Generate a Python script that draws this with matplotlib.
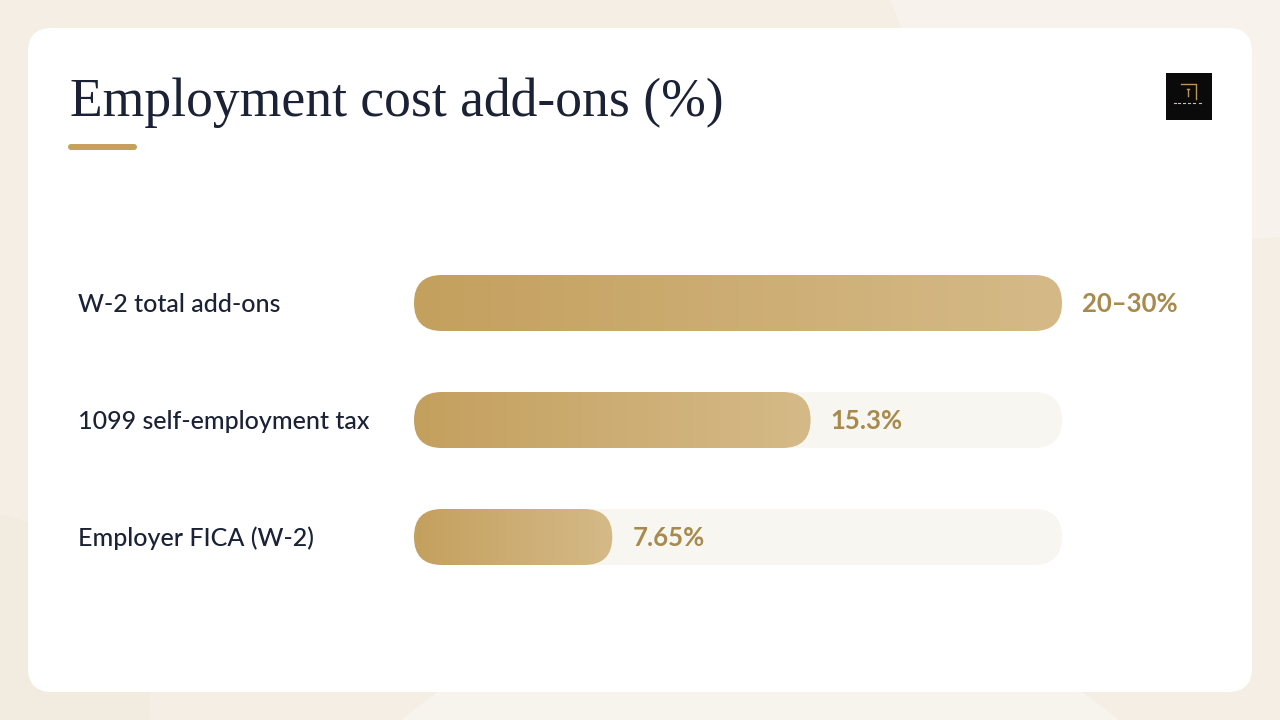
import matplotlib.pyplot as plt
import numpy as np
from matplotlib.patches import FancyBboxPatch, Circle, Rectangle
from matplotlib.transforms import blended_transform_factory

# data
categories = ['W-2 total add-ons', '1099 self-employment tax', 'Employer FICA (W-2)']
values = [25.0, 15.3, 7.65]          # W-2 range 20–30% drawn at its midpoint
value_labels = ['20–30%', '15.3%', '7.65%']
scale_max = 25.0

W, H = 1280, 720
NAVY = '#1b2235'
GOLD = '#c4a15f'
GOLD_TXT = '#a78a4c'
TRACK = '#f8f6f1'

fig = plt.figure(figsize=(12.8, 7.2), dpi=100)
fig.patch.set_facecolor('#f4eee5')

# background / card layer in pixel units
bg = fig.add_axes([0, 0, 1, 1])
bg.set_xlim(0, W)
bg.set_ylim(H, 0)
bg.axis('off')
bg.add_patch(Circle((1230, -120), 360, color='#f7f3ec', ec='none', zorder=0))
bg.add_patch(Circle((-40, 700), 190, color='#f2ebe0', ec='none', zorder=0))
bg.add_patch(Circle((760, 1150), 560, color='#f7f3ed', ec='none', zorder=0))
bg.add_patch(FancyBboxPatch((28, 28), 1224, 664,
                            boxstyle='round,pad=0,rounding_size=24',
                            fc='white', ec='none', zorder=1))

bg.text(70, 116, 'Employment cost add-ons (%)', fontsize=38.6,
        family='Liberation Serif', color=NAVY, va='baseline', zorder=2)
bg.add_patch(FancyBboxPatch((68, 144), 69, 6,
                            boxstyle='round,pad=0,rounding_size=3',
                            fc=GOLD, ec='none', zorder=2))

# small logo
bg.add_patch(Rectangle((1166, 73), 46, 47, fc='#0a0a0a', ec='none', zorder=2))
bg.plot([1181, 1196, 1196], [84, 84, 99], color='#b8955a', lw=1, zorder=3)
bg.plot([1187, 1189], [89, 89], color='#b8955a', lw=1, zorder=3)
bg.plot([1188, 1188], [89, 96], color='#b8955a', lw=1, zorder=3)
for xx in [1174, 1178, 1183, 1188, 1193, 1199]:
    bg.plot([xx, xx + 2], [103, 103], color='#c8c0b0', lw=0.8, zorder=3)

# bar axes
first_c, row_px = 303, 117
track_l, track_w = 414, 648
top_px = first_c - 0.6 * row_px
bot_px = first_c + 2.6 * row_px
ax = fig.add_axes([track_l / W, (H - bot_px) / H, track_w / W, (bot_px - top_px) / H])
ax.set_xlim(0, scale_max)
ax.set_ylim(2.6, -0.6)
ax.axis('off')

px_x = track_w / scale_max
px_y = row_px
bar_h = 56 / px_y
m = px_x / px_y
r = bar_h / (2 * m)

grad = np.linspace(0, 1, 256)[None, :]
c0 = np.array([196, 160, 94]) / 255
c1 = np.array([213, 186, 136]) / 255
grad_img = c0[None, None, :] + (c1 - c0)[None, None, :] * grad[..., None]

base_off = -9 * 0.72   # baseline sits ~9 px below bar centre
lbl_tr = blended_transform_factory(ax.transAxes, ax.transData)
for i, (cat, v, lab) in enumerate(zip(categories, values, value_labels)):
    track = FancyBboxPatch((0, i - bar_h / 2), scale_max, bar_h,
                           boxstyle=f'round,pad=0,rounding_size={r}',
                           mutation_aspect=m, fc=TRACK, ec='none', zorder=1)
    ax.add_patch(track)
    bar = FancyBboxPatch((0, i - bar_h / 2), v, bar_h,
                         boxstyle=f'round,pad=0,rounding_size={r}',
                         mutation_aspect=m, fc='none', ec='none', zorder=2)
    ax.add_patch(bar)
    im = ax.imshow(grad_img, extent=(0, v, i + bar_h / 2, i - bar_h / 2),
                   aspect='auto', interpolation='bilinear', zorder=2)
    im.set_clip_path(bar)
    ax.annotate(lab, xy=(v, i), xytext=(14.5, base_off), textcoords='offset points',
                va='baseline', ha='left', fontsize=18.5, fontweight='bold',
                family='Lato', color=GOLD_TXT, annotation_clip=False)
    ax.annotate(cat, xy=((78 - track_l) / track_w, i), xycoords=lbl_tr,
                xytext=(0, base_off), textcoords='offset points',
                va='baseline', ha='left', fontsize=18, family='Lato',
                fontweight='medium', color=NAVY, annotation_clip=False)

ax.set_xlim(0, scale_max)
ax.set_ylim(2.6, -0.6)

fig.savefig('out.png', dpi=100, facecolor=fig.get_facecolor())
